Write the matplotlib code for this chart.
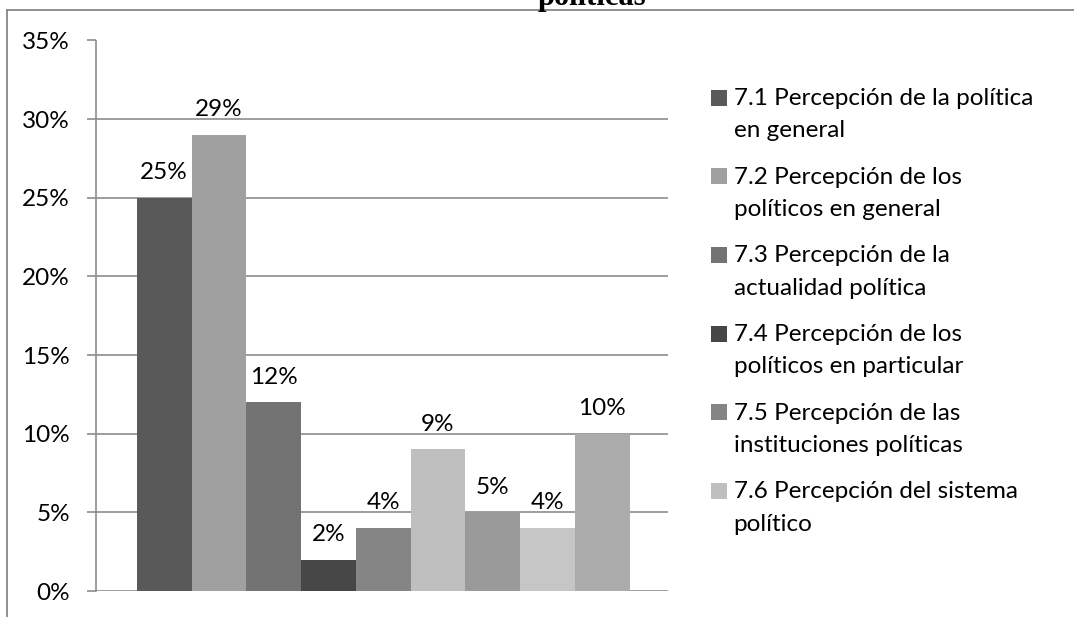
import matplotlib
matplotlib.use("Agg")
import matplotlib.pyplot as plt
from matplotlib.lines import Line2D
from matplotlib.patches import Rectangle
from matplotlib.legend_handler import HandlerPatch
from matplotlib.ticker import MultipleLocator, FuncFormatter

# Share of mentions per sub-category (fraction)
values = [0.25, 0.29, 0.12, 0.02, 0.04, 0.09, 0.05, 0.04, 0.10]
bar_colors = ["#595959", "#a0a0a0", "#737373", "#474747", "#858585",
              "#bfbfbf", "#9a9a9a", "#c6c6c6", "#ababab"]
legend_labels = [
    "7.1 Percepción de la política\nen general",
    "7.2 Percepción de los\npolíticos en general",
    "7.3 Percepción de la\nactualidad política",
    "7.4 Percepción de los\npolíticos en particular",
    "7.5 Percepción de las\ninstituciones políticas",
    "7.6 Percepción del sistema\npolítico",
]
title_text = "políticas"

W, H, DPI = 1074, 617, 100
FONT = "Lato"
FS = 17.5
GRID = "#8c8c8c"

fig = plt.figure(figsize=(W / DPI, H / DPI), dpi=DPI)
plt.rcParams["font.family"] = [FONT, "DejaVu Sans"]


def px(x, y):
    return x / W, 1 - y / H


class TopSquare(HandlerPatch):
    """Square key raised to sit beside the first line of a two-line label."""

    def __init__(self, lift, **kw):
        super().__init__(**kw)
        self.lift = lift

    def create_artists(self, legend, orig_handle, xdescent, ydescent,
                       width, height, fontsize, trans):
        size = min(width, height)
        p = Rectangle((-xdescent, -ydescent + self.lift), size, size,
                      facecolor=orig_handle.get_facecolor(), edgecolor="none",
                      transform=trans)
        return [p]


# outer frame (left and top edges)
fig.add_artist(Line2D([6.5 / W, 6.5 / W], [0, 1 - 9.5 / H], color="#888888",
                      lw=1.3, transform=fig.transFigure))
fig.add_artist(Line2D([6.5 / W, 1], [1 - 9.5 / H, 1 - 9.5 / H], color="#888888",
                      lw=1.3, transform=fig.transFigure))

# title, clipped by the top of the canvas
fig.text(592 / W, 1 - 5 / H, title_text, ha="center", va="baseline",
         fontsize=22, fontweight="bold", family="Liberation Serif")

left, right, top, bottom = 95.7, 668, 40.5, 591
ax = fig.add_axes([left / W, 1 - bottom / H, (right - left) / W, (bottom - top) / H])

xs = list(range(len(values)))
bars = ax.bar(xs, values, width=1.0, color=bar_colors, zorder=3)

for x, v in zip(xs, values):
    ax.annotate(f"{round(v * 100)}%", (x, v), xytext=(0, 13.5),
                textcoords="offset points", ha="center", va="baseline",
                fontsize=FS, family=[FONT, "DejaVu Sans"], zorder=4)

ax.set_xlim(-1.25, 9.2)
ax.set_ylim(0, 0.35)
ax.yaxis.set_major_locator(MultipleLocator(0.05))
ax.yaxis.set_major_formatter(FuncFormatter(lambda v, p: f"{round(v * 100)}%"))
ax.grid(axis="y", color=GRID, lw=1.2, zorder=0)
ax.set_xticks([])
for side in ["top", "right", "bottom"]:
    ax.spines[side].set_visible(False)
ax.spines["left"].set_color(GRID)
ax.spines["left"].set_linewidth(1.2)
ax.spines["left"].set_zorder(5)
ax.tick_params(axis="y", length=6.5, width=1.2, color=GRID, pad=12.0,
               labelsize=FS)
for t in ax.get_yticklabels():
    t.set_family([FONT, "DejaVu Sans"])

handler = TopSquare(lift=12.3)
leg = fig.legend(bars[:len(legend_labels)], legend_labels, loc="upper left",
                 bbox_to_anchor=px(711, 88), frameon=False,
                 prop={"family": FONT, "size": FS},
                 borderpad=0, borderaxespad=0, handlelength=0.66, handleheight=0.66,
                 handletextpad=0.27, labelspacing=1.04,
                 handler_map={type(bars[0]): handler})
for t in leg.get_texts():
    t.set_linespacing(1.67)

fig.savefig("out.png", dpi=DPI)
